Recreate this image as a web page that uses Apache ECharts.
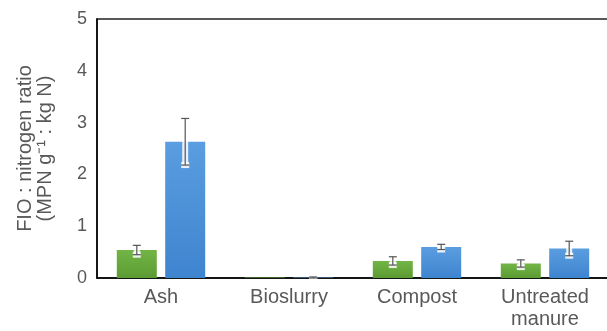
<!DOCTYPE html>
<html><head><meta charset="utf-8">
<script src="https://cdn.jsdelivr.net/npm/echarts@6/dist/echarts.min.js"></script>
<style>html,body{margin:0;padding:0;background:#fff;}#c{width:607px;height:331px;}</style>
</head><body><div id="c"></div>
<script>
const categories = ['Ash', 'Bioslurry', 'Compost', 'Untreated\nmanure'];
const greenValues = [0.54, 0.01, 0.33, 0.28];
const greenErrors = [0.09, 0.0, 0.08, 0.07];
const blueValues = [2.63, 0.01, 0.60, 0.57];
const blueErrors = [0.45, 0.01, 0.05, 0.14];
const yTicks = [0, 1, 2, 3, 4, 5];

const BAR_W = 40, BAR_GAP = 0.21;
const chart = echarts.init(document.getElementById('c'));
const font = 'Liberation Sans, Arial, Helvetica, sans-serif';

function errSeries(values, errors, sign) {
  return {
    type: 'custom', z: 10,
    data: values.map((v, i) => [i, v, errors[i]]),
    renderItem: function (params, api) {
      const i = api.value(0), v = api.value(1), e = api.value(2);
      if (!e) return null;
      const off = sign * (BAR_W + BAR_W * BAR_GAP) / 2;
      const top = api.coord([i, v + e]);
      const bot = api.coord([i, v - e]);
      const x = top[0] + off;
      const cap = 4;
      const segs = [[x, top[1], x, bot[1]], [x - cap, top[1], x + cap, top[1]], [x - cap, bot[1], x + cap, bot[1]]];
      const children = [];
      segs.forEach(s => children.push({type: 'line', shape: {x1: s[0], y1: s[1], x2: s[2], y2: s[3]}, style: {stroke: 'rgba(255,255,255,0.85)', lineWidth: 6}}));
      segs.forEach(s => children.push({type: 'line', shape: {x1: s[0], y1: s[1], x2: s[2], y2: s[3]}, style: {stroke: '#555', lineWidth: 1.2}}));
      return {type: 'group', children: children};
    }
  };
}

chart.setOption({
  animation: false,
  grid: {left: 97, right: -2, top: 19, bottom: 53, outerBoundsMode: 'none', containLabel: false, show: true, borderColor: '#222', borderWidth: 1.5, backgroundColor: 'transparent'},
  xAxis: {
    type: 'category', data: categories,
    axisLine: {lineStyle: {color: '#000', width: 1.5}},
    axisTick: {show: false},
    axisLabel: {color: '#595959', fontSize: 20, fontFamily: font, margin: 8, lineHeight: 22}
  },
  yAxis: {
    type: 'value', min: 0, max: 5, interval: 1,
    axisLine: {show: true, lineStyle: {color: '#000', width: 1.5}},
    axisTick: {show: false},
    splitLine: {show: false},
    axisLabel: {color: '#595959', fontSize: 18, fontFamily: font, margin: 10, formatter: v => yTicks.includes(v) ? String(v) : ''},
    name: 'FIO : nitrogen ratio\n(MPN g\u207B\u00B9 : kg N)',
    nameLocation: 'middle', nameRotate: 90, nameGap: 42,
    nameTextStyle: {color: '#595959', fontSize: 20, fontFamily: font, lineHeight: 20}
  },
  series: [
    {type: 'bar', name: 'Series 1', data: greenValues, barWidth: BAR_W, barGap: (BAR_GAP * 100) + '%',
     itemStyle: {color: new echarts.graphic.LinearGradient(0, 0, 0, 1, [{offset: 0, color: '#72b545'}, {offset: 1, color: '#5c9b33'}])}},
    {type: 'bar', name: 'Series 2', data: blueValues, barWidth: BAR_W,
     itemStyle: {color: new echarts.graphic.LinearGradient(0, 0, 0, 1, [{offset: 0, color: '#5a9de0'}, {offset: 1, color: '#3f84cf'}])}},
    errSeries(greenValues, greenErrors, -1),
    errSeries(blueValues, blueErrors, 1)
  ]
});
</script></body></html>
